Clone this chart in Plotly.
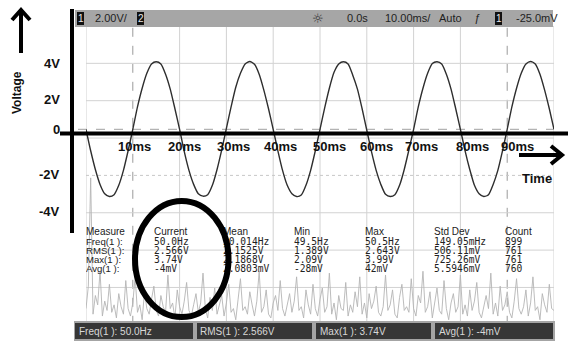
import plotly.graph_objects as go

W, H = 568, 345

# ---------------- data ----------------
time_ms = list(range(0, 101))
ch1_volts = [
    0.0, -1.15, -2.15, -2.95, -3.45, -3.6, -3.5, -3.0, -2.2, -1.15,
    0.0, 1.2, 2.2, 3.0, 3.5, 3.62, 3.5, 2.95, 2.15, 1.1,
    0.0, -1.2, -2.2, -2.95, -3.45, -3.58, -3.5, -3.0, -2.15, -1.1,
    0.05, 1.2, 2.25, 3.0, 3.5, 3.63, 3.48, 2.95, 2.1, 1.1,
    0.0, -1.15, -2.2, -3.0, -3.45, -3.6, -3.52, -3.0, -2.2, -1.15,
    0.0, 1.15, 2.2, 3.05, 3.5, 3.62, 3.5, 2.9, 2.15, 1.1,
    -0.05, -1.2, -2.2, -2.95, -3.48, -3.6, -3.5, -3.0, -2.15, -1.1,
    0.0, 1.2, 2.2, 3.0, 3.52, 3.62, 3.5, 2.95, 2.15, 1.1,
    0.0, -1.15, -2.15, -3.0, -3.45, -3.6, -3.5, -2.95, -2.2, -1.15,
    0.0, 1.2, 2.2, 3.0, 3.5, 3.63, 3.5, 2.95, 2.1, 1.1,
    0.0,
]

ch2_time_ms = [i * 0.5 for i in range(201)]
ch2_volts = [
    -9.6, -8.4, -2.6, -9.9, -8.9, -9.4, -7.6, -10.0, -9.2, -9.7,
    -8.3, -9.8, -9.4, -10.1, -8.8, -9.5, -9.9, -8.1, -9.6, -10.0,
    -9.3, -7.9, -9.8, -9.4, -10.2, -8.7, -9.6, -9.9, -9.1, -8.4,
    -9.7, -10.0, -8.9, -9.5, -9.8, -7.8, -9.6, -9.3, -10.1, -8.6,
    -9.5, -9.9, -9.2, -8.2, -9.7, -10.0, -9.4, -8.8, -9.8, -9.3,
    -7.7, -9.6, -10.1, -9.0, -9.7, -8.5, -9.9, -9.4, -8.9, -10.0,
    -9.3, -8.3, -9.8, -9.6, -10.2, -9.1, -8.0, -9.7, -9.5, -9.9,
    -8.7, -9.4, -10.0, -9.2, -7.6, -9.8, -9.5, -8.6, -9.9, -10.1,
    -9.3, -8.9, -9.7, -8.1, -9.6, -10.0, -9.4, -8.8, -9.8, -9.2,
    -7.9, -9.7, -9.5, -10.1, -8.6, -9.4, -9.9, -8.3, -9.6, -10.0,
    -9.1, -8.5, -9.8, -9.5, -7.7, -9.9, -9.3, -10.2, -8.9, -9.6,
    -9.7, -8.2, -10.0, -9.4, -9.8, -8.7, -9.5, -7.9, -9.9, -9.3,
    -10.1, -8.8, -9.6, -9.2, -8.4, -9.8, -10.0, -9.5, -7.8, -9.7,
    -9.4, -8.6, -9.9, -10.1, -9.0, -8.3, -9.7, -9.5, -9.8, -8.0,
    -9.6, -10.0, -8.9, -9.3, -7.6, -9.8, -9.5, -8.7, -10.1, -9.4,
    -8.5, -9.7, -9.9, -8.1, -9.6, -10.2, -9.3, -8.8, -9.8, -9.5,
    -7.8, -9.9, -9.4, -10.0, -8.6, -9.7, -9.2, -8.2, -9.8, -10.1,
    -9.5, -8.9, -9.6, -7.7, -9.9, -9.3, -10.0, -8.4, -9.7, -9.4,
    -8.7, -9.8, -10.1, -9.2, -8.0, -9.6, -9.9, -9.5, -8.6, -10.0,
    -9.3, -7.9, -9.7, -9.5, -10.2, -8.8, -9.4, -9.8, -8.3, -9.6, -9.7,
]

volt_labels = ["4V", "2V", "0", "-2V", "-4V"]
time_labels = ["10ms", "20ms", "30ms", "40ms", "50ms", "60ms", "70ms", "80ms", "90ms"]

table_header = ["Measure", "Current", "Mean", "Min", "Max", "Std Dev", "Count"]
table_rows = ["Freq(1 ):", "RMS(1 ):", "Max(1 ):", "Avg(1 ):"]
table_current = ["50.0Hz", "2.566V", "3.74V", "-4mV"]
table_mean = ["50.014Hz", "2.1525V", "2.1868V", "2.0803mV"]
table_min = ["49.5Hz", "1.389V", "2.09V", "-28mV"]
table_max = ["50.5Hz", "2.643V", "3.99V", "42mV"]
table_std = ["149.05mHz", "506.11mV", "725.26mV", "5.5946mV"]
table_count = ["899", "761", "761", "760"]

status_texts = ["Freq(1 ): 50.0Hz", "RMS(1 ): 2.566V", "Max(1 ): 3.74V", "Avg(1 ): -4mV"]

# ---------------- layout geometry (pixels) ----------------
X0_PX, X1_PX = 86.0, 554.0          # screen left/right -> 0..100 ms
PX_PER_MS = (X1_PX - X0_PX) / 100.0
Y_TOP_PX, DIV_PX = 26.0, 37.35       # screen top, px per division
ZERO_PX = 129.3                      # 0 V reference line
PX_PER_V = DIV_PX / 2.0
Y_BOT_PX = Y_TOP_PX + 8 * DIV_PX
V_TOP = (ZERO_PX - Y_TOP_PX) / PX_PER_V
V_BOT = (ZERO_PX - Y_BOT_PX) / PX_PER_V


def px(x):
    return x / W


def py(y):
    return 1 - y / H


def xd(xpx):
    return (xpx - X0_PX) / PX_PER_MS


def yd(ypx):
    return (ZERO_PX - ypx) / PX_PER_V


fig = go.Figure()

# channel 2 noise
fig.add_trace(go.Scatter(x=ch2_time_ms, y=ch2_volts, mode="lines",
                         line=dict(color="#b4b4b4", width=0.9), hoverinfo="skip"))
# channel 1 waveform
fig.add_trace(go.Scatter(x=time_ms, y=ch1_volts, mode="lines",
                         line=dict(color="#2e2e2e", width=1.4, shape="spline", smoothing=0.6),
                         hoverinfo="skip"))

# measurement table as text traces (so the drawn ellipse covers them)
row_y = [242.3, 251.2, 260.2, 269.3]
header_y = 232.7
col_x = [89, 157, 226, 297, 368, 437, 508]
TXT_OFF = 3.0
hdr_font = dict(family="Liberation Sans, Arial", size=10, color="#222222")
mono_font = dict(family="DejaVu Sans Mono, monospace", size=9.6, color="#222222")
fig.add_trace(go.Scatter(x=[xd(c - TXT_OFF) for c in col_x], y=[yd(header_y)] * len(col_x),
                         mode="text", text=table_header, textposition="middle right",
                         textfont=hdr_font, hoverinfo="skip"))
fig.add_trace(go.Scatter(x=[xd(col_x[0] - TXT_OFF)] * 4, y=[yd(r) for r in row_y],
                         mode="text", text=table_rows, textposition="middle right",
                         textfont=dict(family="Liberation Sans, Arial", size=9.6, color="#222222"),
                         hoverinfo="skip"))
for ci, col in enumerate([table_current, table_mean, table_min, table_max, table_std, table_count]):
    fig.add_trace(go.Scatter(x=[xd(col_x[ci + 1] - TXT_OFF)] * 4, y=[yd(r) for r in row_y],
                             mode="text", text=col, textposition="middle right",
                             textfont=mono_font, hoverinfo="skip"))

shapes = []
# grid
for k in range(11):
    t = k * 10
    if k in (1, 9):
        shapes.append(dict(type="line", xref="x", yref="y", x0=t, x1=t, y0=V_BOT, y1=V_TOP,
                           line=dict(color="#9a9a9a", width=1, dash="dash"), layer="below"))
    else:
        shapes.append(dict(type="line", xref="x", yref="y", x0=t, x1=t, y0=V_BOT, y1=V_TOP,
                           line=dict(color="#d2d2d2", width=1), layer="below"))
for k in range(9):
    v = V_BOT + 2 * k
    shapes.append(dict(type="line", xref="x", yref="y", x0=0, x1=100, y0=v, y1=v,
                       line=dict(color="#c8c8c8" if k == 4 else "#d2d2d2", width=1,
                                 dash="dot" if k == 4 else "solid"), layer="below"))
# 0 V reference dashed line
shapes.append(dict(type="line", xref="paper", yref="y", x0=px(78), x1=px(554), y0=0, y1=0,
                   line=dict(color="#a0a0a0", width=1, dash="dash"), layer="below"))

# top status bar
shapes.append(dict(type="rect", xref="paper", yref="paper", x0=px(75), x1=px(553), y0=py(27), y1=py(10),
                   fillcolor="#a6a6a6", line=dict(width=0)))
for bx in (77, 137, 495):
    shapes.append(dict(type="rect", xref="paper", yref="paper", x0=px(bx), x1=px(bx + 7), y0=py(25), y1=py(12),
                       fillcolor="#111111", line=dict(width=0)))
# bottom status bar
shapes.append(dict(type="rect", xref="paper", yref="paper", x0=px(74), x1=px(555), y0=py(341), y1=py(321),
                   fillcolor="#a4a4a4", line=dict(width=0)))
for bx0, bx1 in ((75, 193), (197, 312), (316, 431), (435, 553)):
    shapes.append(dict(type="rect", xref="paper", yref="paper", x0=px(bx0), x1=px(bx1), y0=py(339), y1=py(323),
                       fillcolor="#363636", line=dict(width=0)))

# black annotation axes
shapes.append(dict(type="line", xref="paper", yref="paper", x0=px(60), x1=px(568), y0=py(133.5), y1=py(133.5),
                   line=dict(color="black", width=4)))
shapes.append(dict(type="line", xref="paper", yref="paper", x0=px(72), x1=px(72), y0=py(9), y1=py(233),
                   line=dict(color="black", width=4)))
# voltage arrow (up)
shapes.append(dict(type="line", xref="paper", yref="paper", x0=px(21), x1=px(21), y0=py(53), y1=py(11),
                   line=dict(color="black", width=4)))
shapes.append(dict(type="path", xref="paper", yref="paper",
                   path=f"M {px(12)},{py(20)} L {px(21)},{py(10)} L {px(30)},{py(20)}",
                   line=dict(color="black", width=4)))
# time arrow (right)
shapes.append(dict(type="line", xref="paper", yref="paper", x0=px(519), x1=px(561), y0=py(155), y1=py(155),
                   line=dict(color="black", width=4)))
shapes.append(dict(type="path", xref="paper", yref="paper",
                   path=f"M {px(551)},{py(146)} L {px(562)},{py(155)} L {px(551)},{py(164)}",
                   line=dict(color="black", width=4)))
# hand-drawn ellipse
shapes.append(dict(type="circle", xref="paper", yref="paper", x0=px(135), x1=px(228.5), y0=py(317), y1=py(201),
                   line=dict(color="black", width=6), layer="above"))

ann = []
lab_font = dict(family="Liberation Sans, Arial", size=13, color="#111111")
for lab, ypx in zip(volt_labels, [63, 100, 129, 174, 211]):
    ann.append(dict(x=px(62), y=py(ypx), xref="paper", yref="paper", text=f"<b>{lab}</b>",
                    showarrow=False, xanchor="right", yanchor="middle", font=lab_font))
for lab, xpx in zip(time_labels, [134, 184.5, 233, 280, 329, 376, 421, 473, 517]):
    ann.append(dict(x=px(xpx), y=py(146.7), xref="paper", yref="paper", text=f"<b>{lab}</b>",
                    showarrow=False, xanchor="center", yanchor="middle", font=lab_font))
ann.append(dict(x=px(537), y=py(178), xref="paper", yref="paper", text="<b>Time</b>",
                showarrow=False, xanchor="center", yanchor="middle", font=lab_font))
ann.append(dict(x=px(17), y=py(93), xref="paper", yref="paper", text="<b>Voltage</b>", textangle=-90,
                showarrow=False, xanchor="center", yanchor="middle",
                font=dict(family="Liberation Sans, Arial", size=12, color="#111111")))

bar_font = dict(family="Liberation Sans, Arial", size=11, color="#1e1e1e")
top_items = [("2.00V/", 93, "left"), ("0.0s", 345, "left"), ("10.00ms/", 383, "left"),
             ("Auto", 437, "left"), ("-25.0mV", 514, "left")]
for txt, xpx, anc in top_items:
    ann.append(dict(x=px(xpx), y=py(18.5), xref="paper", yref="paper", text=txt, showarrow=False,
                    xanchor=anc, yanchor="middle", font=bar_font))
ann.append(dict(x=px(318), y=py(18.5), xref="paper", yref="paper", text="☼", showarrow=False,
                xanchor="center", yanchor="middle", font=dict(family="DejaVu Sans", size=13, color="#333")))
ann.append(dict(x=px(477), y=py(18.5), xref="paper", yref="paper", text="<i>ƒ</i>", showarrow=False,
                xanchor="center", yanchor="middle", font=bar_font))
for txt, bx in (("1", 80.5), ("2", 140.5), ("1", 498.5)):
    ann.append(dict(x=px(bx), y=py(18.5), xref="paper", yref="paper", text=txt, showarrow=False,
                    xanchor="center", yanchor="middle",
                    font=dict(family="Liberation Sans, Arial", size=10, color="#e8e8e8")))
for txt, bx in zip(status_texts, (77, 198, 318, 437)):
    ann.append(dict(x=px(bx), y=py(331), xref="paper", yref="paper", text=txt, showarrow=False,
                    xanchor="left", yanchor="middle",
                    font=dict(family="Liberation Sans, Arial", size=10, color="#d8d8d8")))

fig.update_layout(
    width=W, height=H, margin=dict(l=0, r=0, t=0, b=0),
    paper_bgcolor="white", plot_bgcolor="white", showlegend=False,
    xaxis=dict(domain=[px(X0_PX), px(X1_PX)], range=[0, 100], showgrid=False, zeroline=False,
               showticklabels=False, ticks="", showline=False, fixedrange=True),
    yaxis=dict(domain=[py(Y_BOT_PX), py(Y_TOP_PX)], range=[V_BOT, V_TOP], showgrid=False, zeroline=False,
               showticklabels=False, ticks="", showline=False, fixedrange=True),
    shapes=shapes, annotations=ann,
)

fig.write_html("out.html")
